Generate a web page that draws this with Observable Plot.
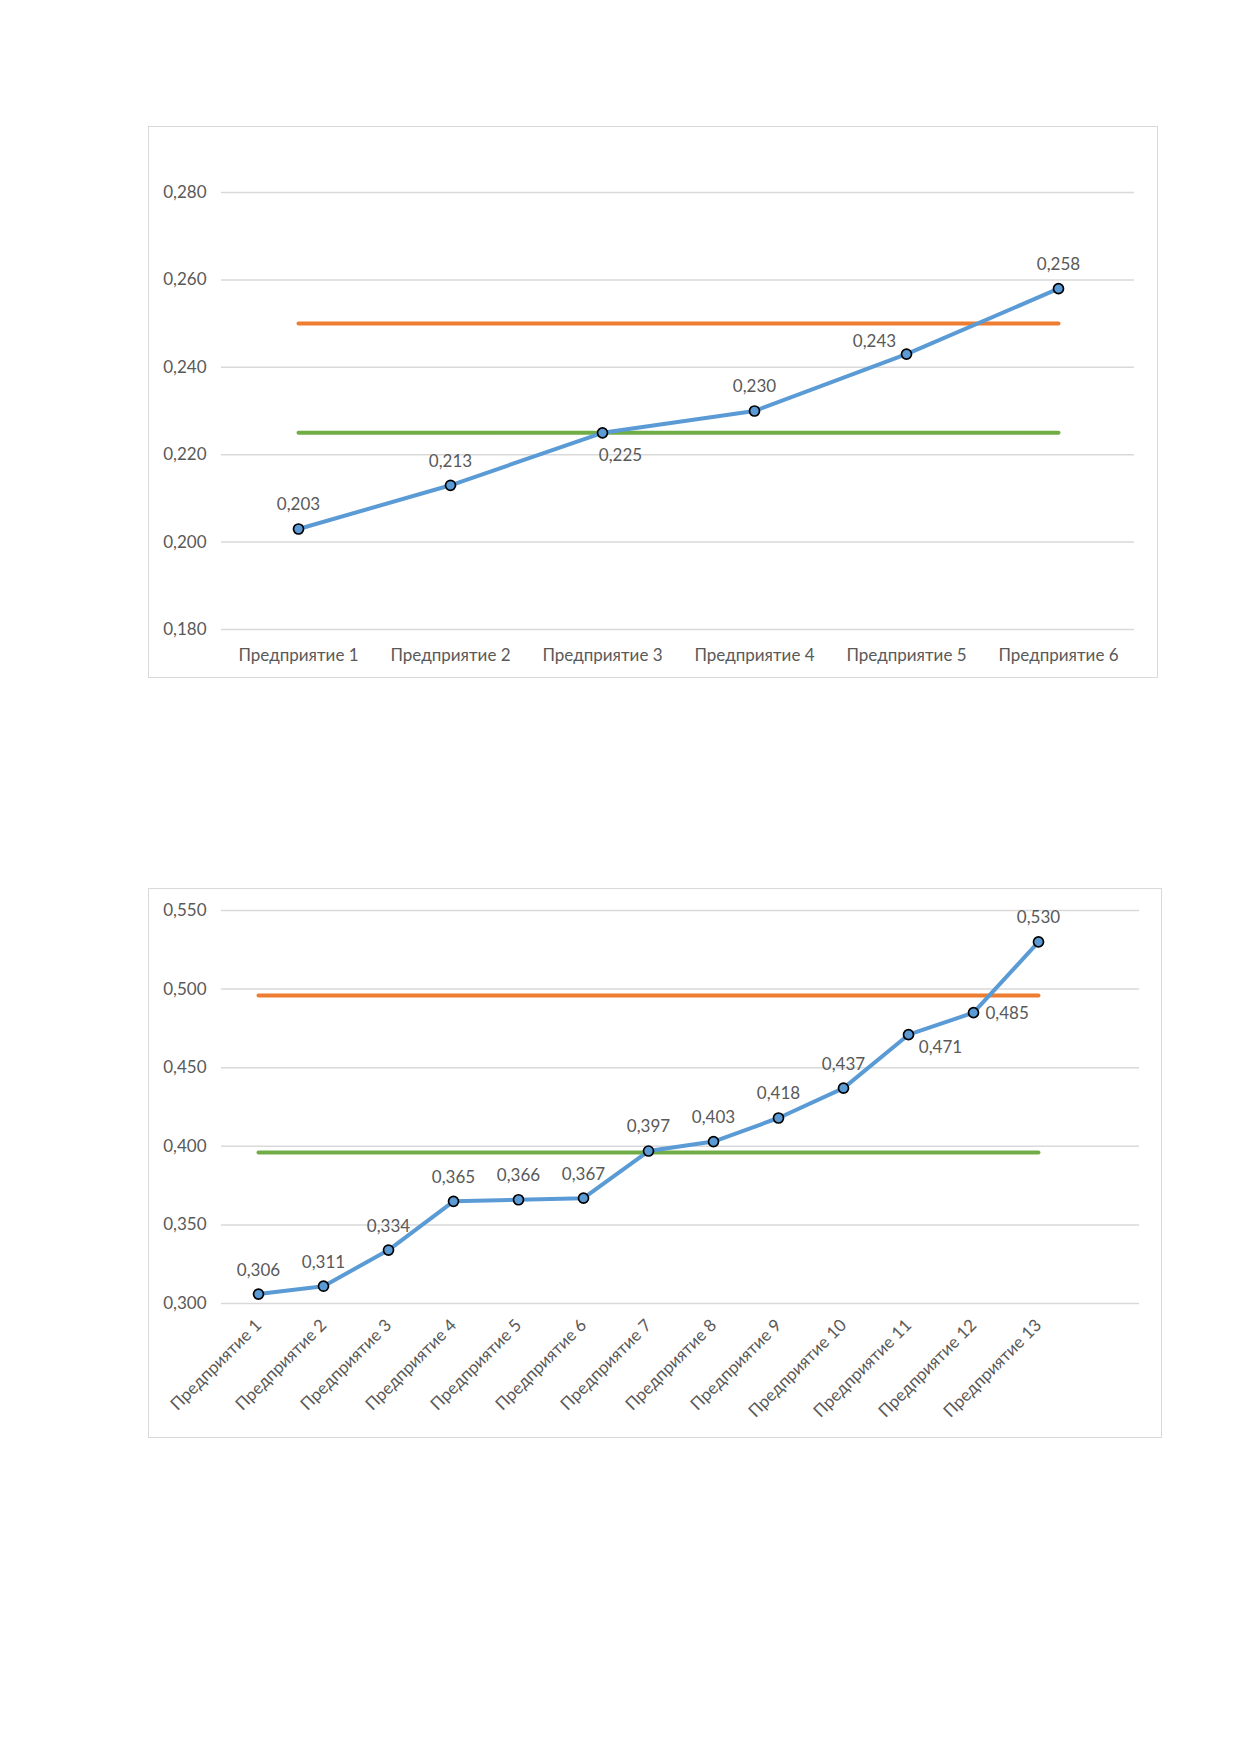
<!DOCTYPE html>
<html>
<head>
<meta charset="utf-8">
<script src="https://cdn.jsdelivr.net/npm/d3@7"></script>
<script src="https://cdn.jsdelivr.net/npm/@observablehq/plot@0.6"></script>
<style>
  html, body { margin: 0; padding: 0; background: #fff; width: 1240px; height: 1754px; position: relative; }
  .frame { position: absolute; border: 1.5px solid #D9D9D9; box-sizing: border-box; background: #fff; }
  .frame svg { display: block; }
</style>
</head>
<body>
<div id="c1" class="frame" style="left:148px; top:126px; width:1010px; height:552px;"></div>
<div id="c2" class="frame" style="left:148px; top:888px; width:1014px; height:550px;"></div>
<script>
// ---- Chart 1 data ----
const cats1 = ["Предприятие 1", "Предприятие 2", "Предприятие 3", "Предприятие 4", "Предприятие 5", "Предприятие 6"];
const vals1 = [0.203, 0.213, 0.225, 0.230, 0.243, 0.258];
const upper1 = 0.250;
const lower1 = 0.225;
const yTicks1 = [0.180, 0.200, 0.220, 0.240, 0.260, 0.280];

// ---- Chart 2 data ----
const cats2 = ["Предприятие 1", "Предприятие 2", "Предприятие 3", "Предприятие 4", "Предприятие 5", "Предприятие 6", "Предприятие 7", "Предприятие 8", "Предприятие 9", "Предприятие 10", "Предприятие 11", "Предприятие 12", "Предприятие 13"];
const vals2 = [0.306, 0.311, 0.334, 0.365, 0.366, 0.367, 0.397, 0.403, 0.418, 0.437, 0.471, 0.485, 0.530];
const upper2 = 0.496;
const lower2 = 0.396;
const yTicks2 = [0.300, 0.350, 0.400, 0.450, 0.500, 0.550];

const BLUE = "#5B9BD5", ORANGE = "#ED7D31", GREEN = "#70AD47", GRID = "#D9D9D9", TXT = "#595959";
const FONT = "Lato, 'Open Sans', sans-serif";
const FS = 17;
const fmt = v => d3.format(".3f")(v).replace(".", ",");

function build(opts) {
  const {cats, vals, upper, lower, yTicks, domainX, width, height, margins, rotate, labelOffsets} = opts;
  const rows = cats.map((c, i) => ({c, v: vals[i], i}));
  const up = cats.map(c => ({c, v: upper}));
  const lo = cats.map(c => ({c, v: lower}));
  const off = i => labelOffsets[i] || {dx: 0, dy: -24, anchor: "middle"};
  return Plot.plot({
    width, height,
    marginLeft: margins[0], marginRight: margins[1], marginTop: margins[2], marginBottom: margins[3],
    style: {fontFamily: FONT, fontSize: FS + "px", color: TXT, background: "transparent"},
    x: {type: "point", domain: domainX, padding: 0.5, label: null},
    y: {domain: [yTicks[0], yTicks[yTicks.length - 1]], label: null},
    marks: [
      Plot.ruleY(yTicks, {stroke: GRID, strokeWidth: 1.5}),
      Plot.axisY({ticks: yTicks, tickFormat: fmt, tickSize: 0, tickPadding: 15, fill: TXT, fontSize: FS, label: null}),
      rotate
        ? Plot.axisX({ticks: cats, tickSize: 0, tickPadding: 19, tickRotate: -45, fill: TXT, fontSize: FS, label: null})
        : Plot.axisX({ticks: cats, tickSize: 0, tickPadding: 19, fill: TXT, fontSize: FS, label: null}),
      Plot.line(up, {x: "c", y: "v", stroke: ORANGE, strokeWidth: 4, strokeLinecap: "round"}),
      Plot.line(lo, {x: "c", y: "v", stroke: GREEN, strokeWidth: 4, strokeLinecap: "round"}),
      Plot.line(rows, {x: "c", y: "v", stroke: BLUE, strokeWidth: 4, strokeLinejoin: "round"}),
      Plot.dot(rows, {x: "c", y: "v", r: 5, fill: BLUE, stroke: "#000", strokeWidth: 1.7}),
      ...rows.map(r => Plot.text([r], {x: "c", y: "v", text: d => fmt(d.v),
        dx: off(r.i).dx, dy: off(r.i).dy, textAnchor: off(r.i).anchor, fill: TXT, fontSize: FS}))
    ]
  });
}

document.getElementById("c1").appendChild(build({
  cats: cats1, vals: vals1, upper: upper1, lower: lower1, yTicks: yTicks1,
  domainX: cats1, width: 1007, height: 549, margins: [72, 22, 65, 47], rotate: false,
  labelOffsets: {2: {dx: 18, dy: 23, anchor: "middle"}, 4: {dx: -32, dy: -13, anchor: "middle"}}
}));

document.getElementById("c2").appendChild(build({
  cats: cats2, vals: vals2, upper: upper2, lower: lower2, yTicks: yTicks2,
  domainX: [...cats2, " "], width: 1011, height: 547, margins: [72, 21, 21, 133], rotate: true,
  labelOffsets: {10: {dx: 32, dy: 13, anchor: "middle"}, 11: {dx: 12, dy: 1, anchor: "start"}}
}));
</script>
</body>
</html>
